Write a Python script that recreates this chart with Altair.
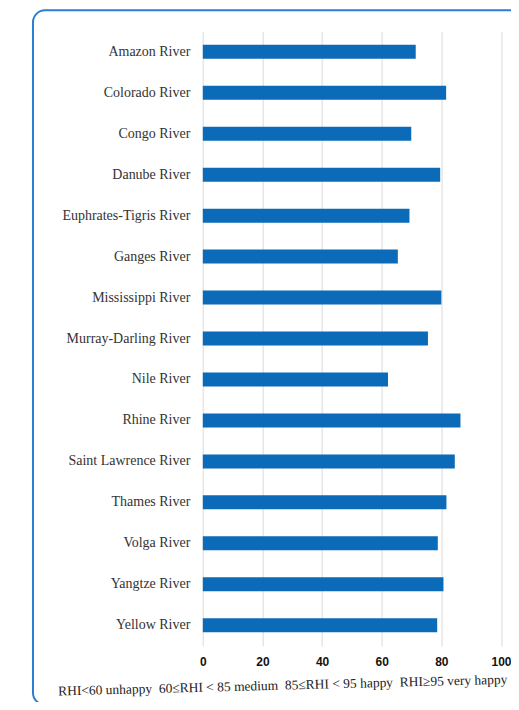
import altair as alt
import pandas as pd

rivers = ["Amazon River", "Colorado River", "Congo River", "Danube River",
          "Euphrates-Tigris River", "Ganges River", "Mississippi River",
          "Murray-Darling River", "Nile River", "Rhine River",
          "Saint Lawrence River", "Thames River", "Volga River",
          "Yangtze River", "Yellow River"]
rhi = [71.4, 81.6, 69.9, 79.6, 69.3, 65.4, 80.0, 75.5, 62.1, 86.4,
       84.5, 81.7, 78.8, 80.7, 78.6]
x_ticks = [0, 20, 40, 60, 80, 100]
gap = "\u00a0\u00a0"
footer = gap.join(["RHI<60 unhappy", "60≤RHI < 85 medium",
                   "85≤RHI < 95 happy", "RHI≥95 very happy"])

df = pd.DataFrame({"river": rivers, "rhi": rhi})

W = 298.5
H = 615

bars = alt.Chart(df).mark_bar(color="#0b6bb8", size=14).encode(
    x=alt.X("rhi:Q", scale=alt.Scale(domain=[0, 100], nice=False),
            axis=alt.Axis(values=x_ticks, title=None, domain=False, ticks=False,
                          grid=True, gridColor="#e6e6e6", gridWidth=1.5,
                          labelFlush=False,
                          labelFont="Liberation Sans", labelFontWeight="bold",
                          labelFontSize=12, labelColor="#111", labelPadding=11)),
    y=alt.Y("river:N", sort=rivers, scale=alt.Scale(paddingInner=0.66, paddingOuter=0.33),
            axis=alt.Axis(title=None, domain=False, ticks=False, grid=False,
                          labelFont="Liberation Serif", labelFontSize=14,
                          labelColor="#333", labelPadding=13)),
)

frame = alt.Chart(pd.DataFrame({"a": [0]})).mark_rect(
    fill=None, stroke="#2d7dd2", strokeWidth=2, cornerRadius=12
).encode(x=alt.value(-170), x2=alt.value(340), y=alt.value(-21), y2=alt.value(674))

foot = alt.Chart(pd.DataFrame({"t": [footer]})).mark_text(
    font="Liberation Serif", fontSize=13.5, color="#222", align="center",
    baseline="middle", angle=358.5
).encode(text="t:N", x=alt.value(80), y=alt.value(655))

chart = alt.layer(frame, bars, foot).properties(
    width=W, height=H,
    autosize=alt.AutoSizeParams(type="none"),
    padding={"left": 195, "top": 23, "right": 10, "bottom": 56},
).configure_view(stroke=None)

chart.save("out.html", embed_options={"renderer": "svg", "actions": False})
